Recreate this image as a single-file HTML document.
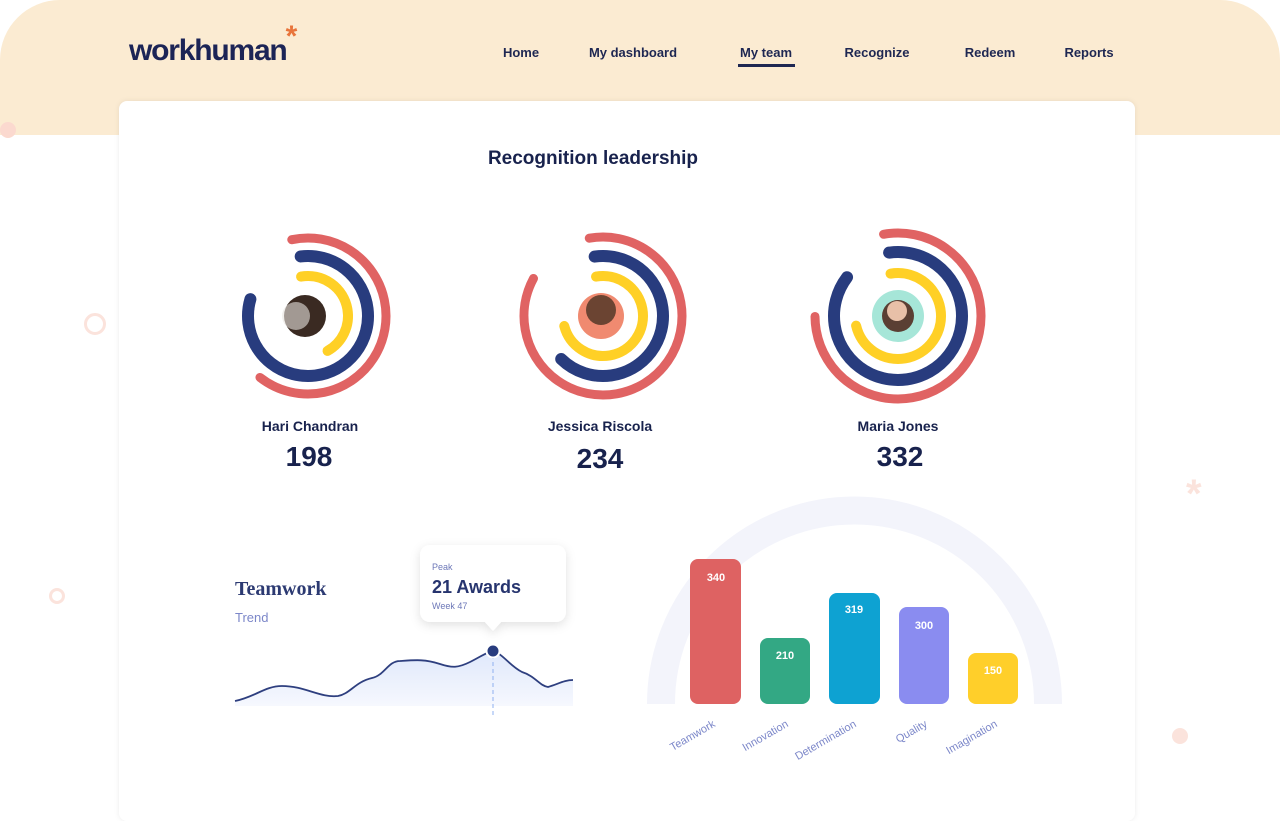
<!DOCTYPE html>
<html><head><meta charset="utf-8"><style>
body{margin:0;width:1280px;height:801px;overflow:hidden;background:#fff;font-family:"Liberation Sans",sans-serif;position:relative}
.hdr{position:absolute;left:0;top:0;width:1280px;height:135px;background:#fbebd2;border-radius:60px 60px 0 0}
.nav{position:absolute;top:45px;font-size:13px;font-weight:bold;color:#1e2752;transform:translateX(-50%);white-space:nowrap}
.card{position:absolute;left:119px;top:101px;width:1016px;height:720px;background:#fff;border-radius:8px;box-shadow:0 0 6px rgba(0,0,0,0.08)}
.t{position:absolute;color:#18224d;font-weight:bold;transform:translateX(-50%);white-space:nowrap}
</style></head><body>
<div class="hdr"></div>
<div style="position:absolute;left:0;top:122px;width:16px;height:16px;border-radius:50%;background:#fbd9cf"></div>
<div style="position:absolute;left:129px;top:34px;font-size:30px;font-weight:bold;color:#1c2456;letter-spacing:-1.2px">workhuman<span style="color:#e8743b;font-size:30px;position:relative;top:-14px;left:-1px">*</span></div>
<div class="nav" style="left:521px">Home</div>
<div class="nav" style="left:633px">My dashboard</div>
<div class="nav" style="left:766px">My team</div>
<div style="position:absolute;left:738px;top:64px;width:57px;height:3px;background:#1e2752"></div>
<div class="nav" style="left:877px">Recognize</div>
<div class="nav" style="left:990px">Redeem</div>
<div class="nav" style="left:1089px">Reports</div>
<div style="position:absolute;left:84px;top:313px;width:16px;height:16px;border:3px solid #fbe3dc;border-radius:50%"></div>
<div style="position:absolute;left:49px;top:588px;width:10px;height:10px;border:3px solid #fbe3dc;border-radius:50%"></div>
<div style="position:absolute;left:1172px;top:728px;width:16px;height:16px;background:#fbe3dc;border-radius:50%"></div>
<div style="position:absolute;left:1186px;top:472px;font-size:40px;color:#fbe3dc;font-weight:bold">*</div>
<div class="card"></div>
<div class="t" style="left:593px;top:148px;font-size:19px">Recognition leadership</div>
<svg style="position:absolute;left:0;top:0" width="1280" height="801">
<g fill="none" stroke-linecap="round">
<g transform="translate(308,316)">
<circle r="78" stroke="#e06363" stroke-width="9" style="stroke-dasharray:313 1000" transform="rotate(-102)"/>
<circle r="60" stroke="#283c7e" stroke-width="12" style="stroke-dasharray:307 1000" transform="rotate(-97)"/>
<circle r="40" stroke="#ffd026" stroke-width="10" style="stroke-dasharray:112 1000" transform="rotate(-100)"/>
</g>
<g transform="translate(603,316)">
<circle r="79" stroke="#e06363" stroke-width="9" style="stroke-dasharray:425 1000" transform="rotate(-100)"/>
<circle r="60" stroke="#283c7e" stroke-width="12" style="stroke-dasharray:243 1000" transform="rotate(-98)"/>
<circle r="40" stroke="#ffd026" stroke-width="10" style="stroke-dasharray:185 1000" transform="rotate(-100)"/>
</g>
<g transform="translate(898,316)">
<circle r="83" stroke="#e06363" stroke-width="9" style="stroke-dasharray:405 1000" transform="rotate(-100)"/>
<circle r="64" stroke="#283c7e" stroke-width="12" style="stroke-dasharray:352 1000" transform="rotate(-98)"/>
<circle r="43" stroke="#ffd026" stroke-width="10" style="stroke-dasharray:200 1000" transform="rotate(-100)"/>
</g>
</g>
<circle cx="305" cy="316" r="21" fill="#3a2a22"/><circle cx="296" cy="316" r="14" fill="#e8e4e0" opacity="0.6"/>
<circle cx="601" cy="316" r="23" fill="#f08a70"/><circle cx="601" cy="310" r="15" fill="#6b4432"/>
<circle cx="898" cy="316" r="26" fill="#a6e6d8"/><circle cx="898" cy="316" r="16" fill="#5a3f33"/><circle cx="897" cy="311" r="10" fill="#e8c0a8"/>
<path d="M661,704 A193,193 0 0 1 1048,704" stroke="#f3f4fb" stroke-width="28" fill="none"/>
<g>
<rect x="690" y="559" width="51" height="145" rx="8" fill="#de6262"/>
<rect x="760" y="638" width="50" height="66" rx="8" fill="#33a884"/>
<rect x="829" y="593" width="51" height="111" rx="8" fill="#0ea2d2"/>
<rect x="899" y="607" width="50" height="97" rx="8" fill="#8a8cf0"/>
<rect x="968" y="653" width="50" height="51" rx="8" fill="#ffcf2a"/>
</g>
<g fill="#fff" font-size="11" font-weight="bold" text-anchor="middle" font-family="Liberation Sans">
<text x="716" y="581">340</text><text x="785" y="659">210</text><text x="854" y="613">319</text><text x="924" y="629">300</text><text x="993" y="674">150</text>
</g>
<g fill="#7c87c9" font-size="11" text-anchor="end" font-family="Liberation Sans">
<text transform="translate(716,726) rotate(-30)">Teamwork</text>
<text transform="translate(789,726) rotate(-30)">Innovation</text>
<text transform="translate(857,726) rotate(-30)">Determination</text>
<text transform="translate(928,726) rotate(-30)">Quality</text>
<text transform="translate(998,726) rotate(-30)">Imagination</text>
</g>
<defs><linearGradient id="g" x1="0" y1="0" x2="0" y2="1"><stop offset="0" stop-color="#dfe8fb"/><stop offset="1" stop-color="#f6f8fe"/></linearGradient>
<filter id="sh" x="-20%" y="-20%" width="140%" height="150%"><feDropShadow dx="0" dy="3" stdDeviation="5" flood-color="#000" flood-opacity="0.12"/></filter></defs>
<path d="M235,701 C255,697 265,686 282,686 C305,686 320,698 338,696 C350,694 355,682 372,678 C385,675 388,661 400,661 C415,660 425,659 440,664 C452,668 458,668 470,662 C480,657 487,652 493,651 C503,654 510,666 522,672 C535,676 540,686 548,687 C558,684 565,680 573,680 L573,706 L235,706 Z" fill="url(#g)"/>
<path d="M235,701 C255,697 265,686 282,686 C305,686 320,698 338,696 C350,694 355,682 372,678 C385,675 388,661 400,661 C415,660 425,659 440,664 C452,668 458,668 470,662 C480,657 487,652 493,651 C503,654 510,666 522,672 C535,676 540,686 548,687 C558,684 565,680 573,680" fill="none" stroke="#2e3f7f" stroke-width="1.8"/>
<line x1="493" y1="655" x2="493" y2="716" stroke="#8fb0f0" stroke-dasharray="4 3"/>
<circle cx="493" cy="651" r="6.5" fill="#283c7e" stroke="#fff" stroke-width="2"/>
<g filter="url(#sh)"><rect x="420" y="545" width="146" height="77" rx="10" fill="#fff"/><path d="M484,621 L493,631 L502,621 Z" fill="#fff"/></g>
<text x="432" y="570" font-size="9" fill="#6d78b8" font-family="Liberation Sans">Peak</text>
<text x="432" y="593" font-size="18" font-weight="bold" fill="#26346e" font-family="Liberation Sans">21 Awards</text>
<text x="432" y="609" font-size="9" fill="#6d78b8" font-family="Liberation Sans">Week 47</text>
<text x="235" y="595" font-size="20" font-weight="bold" fill="#2c3a72" font-family="Liberation Serif">Teamwork</text>
<text x="235" y="622" font-size="13" fill="#7c87c9" font-family="Liberation Sans">Trend</text>
</svg>
<div class="t" style="left:310px;top:418px;font-size:14px">Hari Chandran</div>
<div class="t" style="left:309px;top:441px;font-size:28px">198</div>
<div class="t" style="left:600px;top:418px;font-size:14px">Jessica Riscola</div>
<div class="t" style="left:600px;top:443px;font-size:28px">234</div>
<div class="t" style="left:898px;top:418px;font-size:14px">Maria Jones</div>
<div class="t" style="left:900px;top:441px;font-size:28px">332</div>
</body></html>
